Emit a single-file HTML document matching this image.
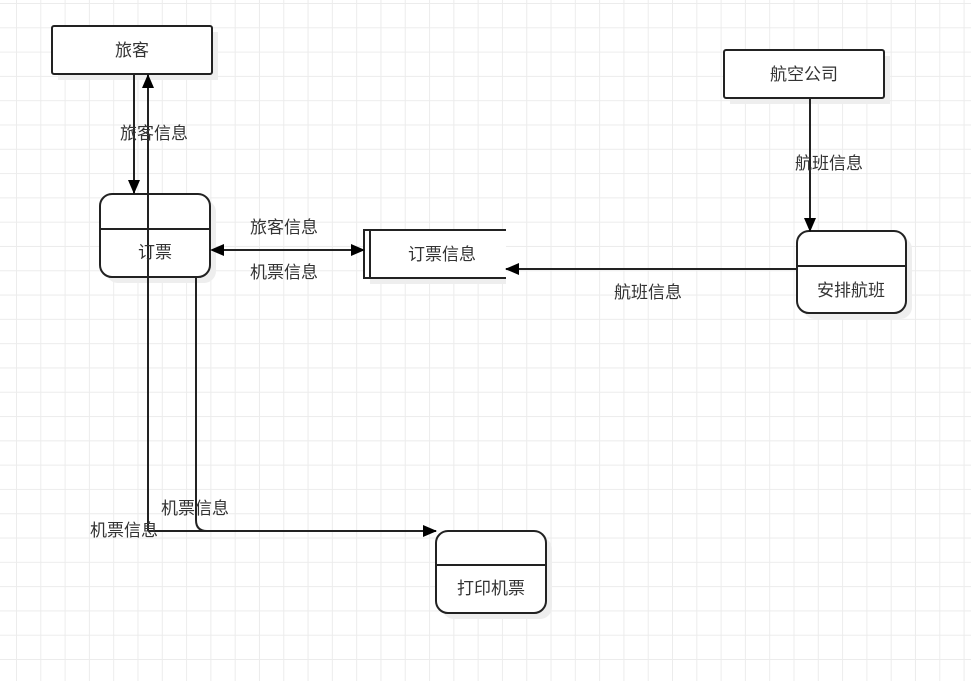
<!DOCTYPE html>
<html><head><meta charset="utf-8"><style>
body{margin:0;width:971px;height:681px;overflow:hidden;background:#fff;
background-image:linear-gradient(#ececec 1px,transparent 1px),linear-gradient(90deg,#ececec 1px,transparent 1px);
background-size:24.3px 24.3px;background-position:16px 3px;}
svg{position:absolute;left:0;top:0}
text{font-family:"Liberation Sans","Noto Sans CJK SC",sans-serif;font-size:17px;fill:#333;text-anchor:middle}
</style></head><body>
<svg width="971" height="681">
<defs><marker id="a" markerWidth="14" markerHeight="14" refX="13" refY="7" orient="auto" markerUnits="userSpaceOnUse"><path d="M0,1 L14,7 L0,13z" fill="#000"/></marker></defs>
<g fill="#eee">
<rect x="58" y="32" width="160" height="48"/><rect x="730" y="56" width="160" height="48"/>
<rect x="106" y="200" width="110" height="83" rx="12"/><rect x="803" y="237" width="109" height="82" rx="12"/>
<rect x="442" y="537" width="110" height="82" rx="12"/><rect x="370" y="236" width="136" height="48"/>
</g>
<g stroke="#222" stroke-width="2" fill="#fff">
<rect x="52" y="26" width="160" height="48" rx="2"/>
<rect x="724" y="50" width="160" height="48" rx="2"/>
<rect x="100" y="194" width="110" height="83" rx="12"/><line x1="100" y1="229" x2="210" y2="229"/>
<rect x="797" y="231" width="109" height="82" rx="12"/><line x1="797" y1="266" x2="906" y2="266"/>
<rect x="436" y="531" width="110" height="82" rx="12"/><line x1="436" y1="565" x2="546" y2="565"/>
<rect x="364" y="230" width="142" height="48" stroke="none"/>
<path d="M506,230 H364 V278 H506" fill="none"/><line x1="370" y1="230" x2="370" y2="278"/>
</g>
<g stroke="#222" stroke-width="2" fill="none">
<line x1="134" y1="74" x2="134" y2="193" marker-end="url(#a)"/>
<path d="M148,531 V75" marker-end="url(#a)"/>
<path d="M148,531 H436" marker-end="url(#a)"/>
<path d="M196,277 V520 Q196,531 207,531"/>
<line x1="222" y1="250" x2="364" y2="250" marker-end="url(#a)"/>
<line x1="810" y1="98" x2="810" y2="231" marker-end="url(#a)"/>
<line x1="797" y1="269" x2="506" y2="269" marker-end="url(#a)"/>
</g>
<path d="M210,250 L224,244 L224,256z" fill="#000"/>
<text x="132" y="56">旅客</text><text x="804" y="80">航空公司</text>
<text x="155" y="258">订票</text><text x="851" y="296">安排航班</text>
<text x="491" y="594">打印机票</text><text x="442" y="260">订票信息</text>
<text x="154" y="139">旅客信息</text><text x="284" y="233">旅客信息</text>
<text x="284" y="278">机票信息</text><text x="829" y="169">航班信息</text>
<text x="648" y="298">航班信息</text><text x="195" y="514">机票信息</text>
<text x="124" y="536">机票信息</text>
</svg>
</body></html>
